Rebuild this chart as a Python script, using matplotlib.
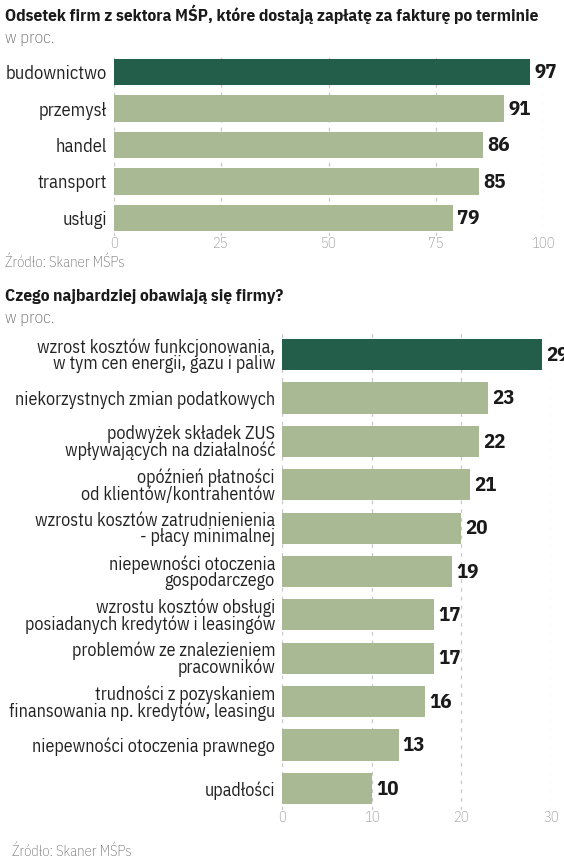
import matplotlib
matplotlib.use("Agg")
import matplotlib.pyplot as plt

# data
sectors = ["budownictwo", "przemysł", "handel", "transport", "usługi"]
sector_values = [97, 91, 86, 85, 79]

fears = [
    "wzrost kosztów funkcjonowania,\nw tym cen energii, gazu i paliw",
    "niekorzystnych zmian podatkowych",
    "podwyżek składek ZUS\nwpływających na działalność",
    "opóźnień płatności\nod klientów/kontrahentów",
    "wzrostu kosztów zatrudnienienia\n- płacy minimalnej",
    "niepewności otoczenia\ngospodarczego",
    "wzrostu kosztów obsługi\nposiadanych kredytów i leasingów",
    "problemów ze znalezieniem\npracowników",
    "trudności z pozyskaniem\nfinansowania np. kredytów, leasingu",
    "niepewności otoczenia prawnego",
    "upadłości",
]
fear_values = [29, 23, 22, 21, 20, 19, 17, 17, 16, 13, 10]

top_ticks = [0, 25, 50, 75, 100]
bottom_ticks = [0, 10, 20, 30]

DARK = "#235e4a"
LIGHT = "#a9b994"
GRID = "#c8c8c8"
TICK = "#8a8a8a"

plt.rcParams["font.family"] = ["IBM Plex Sans Condensed", "DejaVu Sans"]

W, H = 564, 867
fig = plt.figure(figsize=(W / 100, H / 100), dpi=100)
fig.patch.set_facecolor("white")


def px_axes(left, top, right, bottom):
    return fig.add_axes([left / W, 1 - bottom / H, (right - left) / W, (bottom - top) / H])


def bar_panel(ax, labels, values, xmax, ticks, label_size, value_size, height):
    y = list(range(len(labels)))
    colors = [DARK] + [LIGHT] * (len(labels) - 1)
    for t in ticks:
        ax.axvline(t, color=GRID, lw=0.9, ls=(0, (3, 4)), zorder=0)
    ax.barh(y, values, height=height, color=colors, zorder=2)
    for yi, v in zip(y, values):
        ax.annotate(str(v), (v, yi), xytext=(3, -0.5), textcoords="offset points",
                    ha="left", va="center", fontsize=value_size, fontweight="bold",
                    color="#1a1a1a")
    ax.set_xlim(0, xmax)
    ax.set_ylim(len(labels) - 0.5, -0.5)
    ax.set_yticks(y)
    ax.set_yticklabels(labels, fontsize=label_size, color="#222222", linespacing=0.88)
    ax.set_xticks(ticks)
    ax.set_xticklabels([str(t) for t in ticks], fontsize=10.5, color=TICK, fontweight="light")
    ax.tick_params(length=0, axis="y", pad=5)
    ax.tick_params(length=0, axis="x", pad=1)
    for s in ax.spines.values():
        s.set_visible(False)
    ax.patch.set_alpha(0)


# top chart
ax1 = px_axes(114, 54, 543, 236)
bar_panel(ax1, sectors, sector_values, 100, top_ticks, 13.3, 15, 0.72)

fig.text(5 / W, 1 - 14 / H, "Odsetek firm z sektora MŚP, które dostają zapłatę za fakturę po terminie",
         fontsize=12.5, fontweight="bold", color="#1a1a1a", va="center", ha="left")
fig.text(5 / W, 1 - 38 / H, "w proc.", fontsize=12.5, color="#555555", va="center", ha="left",
         fontweight="light")
fig.text(5 / W, 1 - 263 / H, "Źródło: Skaner MŚPs", fontsize=10.5, color="#666666",
         va="center", ha="left", fontweight="light")

# bottom chart
ax2 = px_axes(282, 333, 551, 810)
bar_panel(ax2, fears, fear_values, 30, bottom_ticks, 13, 15, 0.72)

fig.text(5 / W, 1 - 296 / H, "Czego najbardziej obawiają się firmy?",
         fontsize=12.5, fontweight="bold", color="#1a1a1a", va="center", ha="left")
fig.text(5 / W, 1 - 318 / H, "w proc.", fontsize=12.5, color="#555555", va="center", ha="left",
         fontweight="light")
fig.text(12 / W, 1 - 852 / H, "Źródło: Skaner MŚPs", fontsize=10.5, color="#666666",
         va="center", ha="left", fontweight="light")

fig.savefig("out.png", dpi=100, facecolor="white")
